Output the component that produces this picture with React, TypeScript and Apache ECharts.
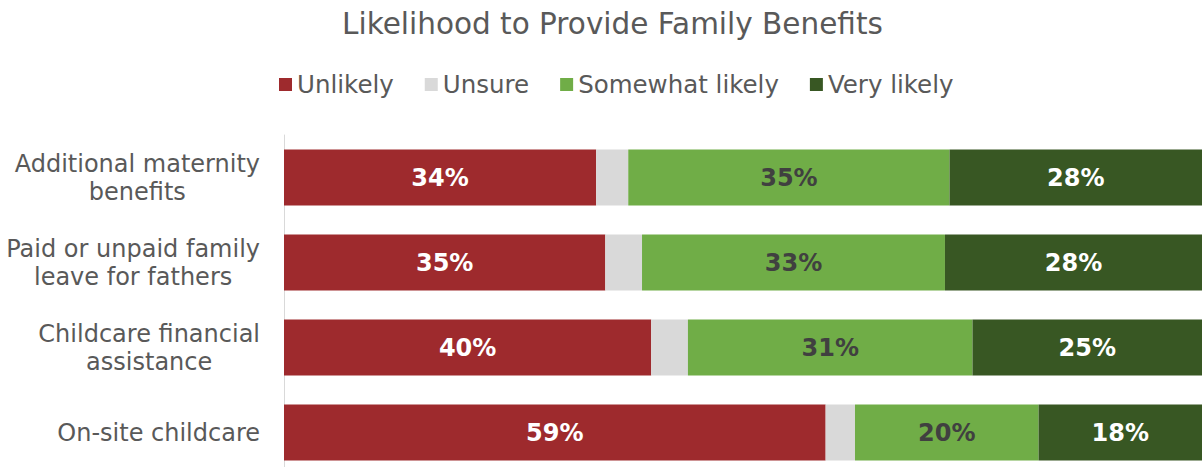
import React, { useEffect, useRef } from "react";
import * as echarts from "echarts";

const categories = [
  "Additional maternity\nbenefits",
  "Paid or unpaid family\nleave for fathers",
  "Childcare financial\nassistance",
  "On-site childcare",
];
const unlikely = [34, 35, 40, 59];
const unsure = [3.5, 4, 4, 3.2];
const somewhatLikely = [35, 33, 31, 20];
const veryLikely = [28, 28, 25, 18];

const FONT = "'DejaVu Sans', Verdana, sans-serif";
const TEXT_GRAY = "#595959";

function makeSeries(
  name: string,
  data: number[],
  color: string,
  labelColor: string | null
) {
  return {
    name,
    type: "bar",
    stack: "total",
    barWidth: 56,
    data,
    itemStyle: { color },
    label: labelColor
      ? {
          show: true,
          position: "inside",
          formatter: "{c}%",
          color: labelColor,
          fontFamily: FONT,
          fontWeight: "bold",
          fontSize: 24,
        }
      : { show: false },
    emphasis: { disabled: true },
  };
}

export default function App() {
  const ref = useRef<HTMLDivElement>(null);

  useEffect(() => {
    if (!ref.current) return;
    const chart = echarts.init(ref.current, undefined, { renderer: "svg" });
    chart.setOption({
      animation: false,
      title: {
        text: "Likelihood to Provide Family Benefits",
        left: 337,
        top: 4,
        textStyle: {
          fontFamily: FONT,
          fontWeight: "normal",
          fontSize: 29.5,
          color: TEXT_GRAY,
        },
      },
      legend: {
        left: 274,
        top: 67,
        itemWidth: 13,
        itemHeight: 13,
        itemGap: 31,
        icon: "rect",
        textStyle: {
          fontFamily: FONT,
          fontSize: 24.5,
          color: TEXT_GRAY,
        },
        data: ["Unlikely", "Unsure", "Somewhat likely", "Very likely"],
      },
      grid: { left: 284, right: 0, top: 135, height: 340 },
      xAxis: { type: "value", min: 0, max: 100, show: false },
      yAxis: {
        type: "category",
        inverse: true,
        data: categories,
        axisLine: { show: true, lineStyle: { color: "#D9D9D9", width: 1 } },
        axisTick: { show: false },
        axisLabel: {
          margin: 24,
          align: "right",
          lineHeight: 28,
          formatter: (v: string) =>
            v
              .split("\n")
              .map((l) => `{c|${l}}`)
              .join("\n"),
          rich: {
            c: {
              align: "center",
              fontFamily: FONT,
              fontSize: 24,
              lineHeight: 28,
              color: TEXT_GRAY,
            },
          },
        },
      },
      series: [
        makeSeries("Unlikely", unlikely, "#9E2A2D", "#FFFFFF"),
        makeSeries("Unsure", unsure, "#D9D9D9", null),
        makeSeries("Somewhat likely", somewhatLikely, "#70AD47", "#404040"),
        makeSeries("Very likely", veryLikely, "#385723", "#FFFFFF"),
      ],
    });
    return () => chart.dispose();
  }, []);

  return (
    <div
      style={{
        position: "fixed",
        left: 0,
        top: 0,
        width: 1202,
        height: 467,
        overflow: "hidden",
        background: "#FFFFFF",
      }}
    >
      <div ref={ref} style={{ width: 1202, height: 480 }} />
    </div>
  );
}
